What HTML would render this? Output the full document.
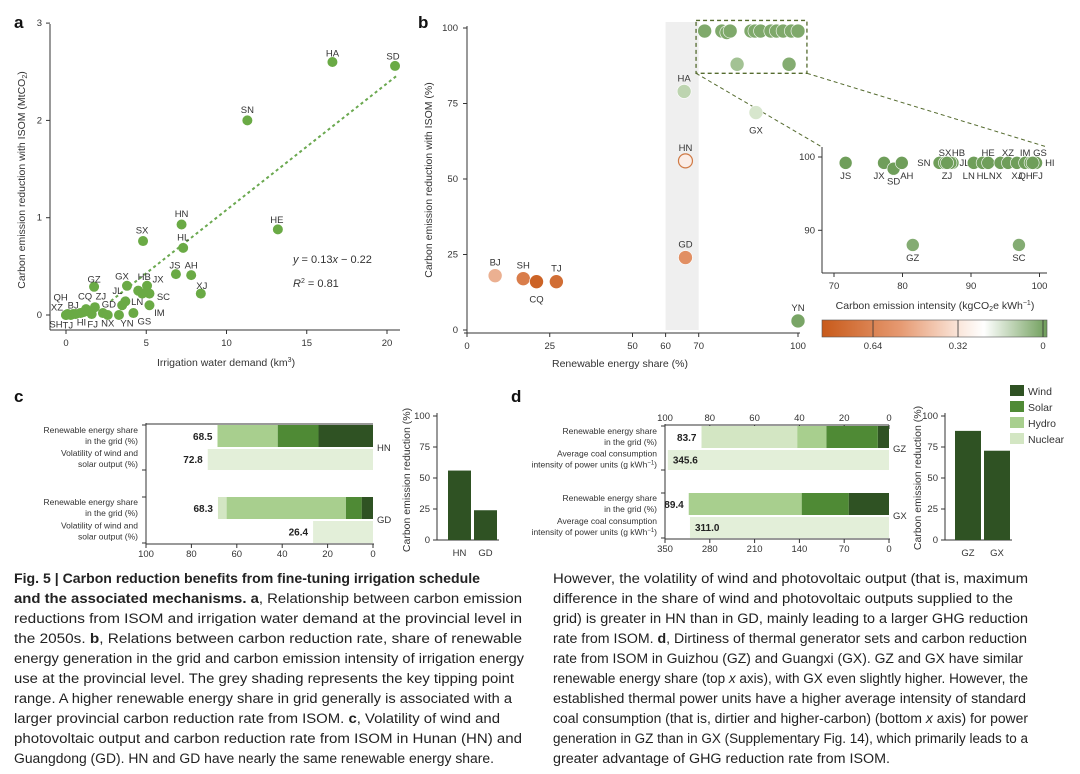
<!DOCTYPE html>
<html><head><meta charset="utf-8">
<style>
html,body{margin:0;padding:0;background:#fff;}
svg{display:block;font-family:"Liberation Sans",sans-serif;}
.t{font-size:9.5px;fill:#333;}
.lab{font-size:9.5px;fill:#333;}
.ax{stroke:#333;stroke-width:1;fill:none;}
.title{font-size:10.5px;fill:#333;}
.pl{font-size:17px;font-weight:bold;fill:#111;}
.cap{font-size:13.5px;fill:#222;}
</style></head>
<body>
<svg id="fig" width="1080" height="774" viewBox="0 0 1080 774" xmlns="http://www.w3.org/2000/svg">
<defs>
<linearGradient id="cbar" x1="0" x2="1" y1="0" y2="0">
<stop offset="0" stop-color="#c85a1a"/><stop offset="0.35" stop-color="#e69a72"/><stop offset="0.62" stop-color="#fbe9df"/><stop offset="0.72" stop-color="#ffffff"/><stop offset="1" stop-color="#6f9e5a"/>
</linearGradient>
</defs>
<text class="pl" x="14" y="28">a</text>
<text class="pl" x="418" y="28">b</text>
<text class="pl" x="14" y="402">c</text>
<text class="pl" x="511" y="402">d</text>

<g id="pa">
<line class="ax" x1="50" y1="24" x2="50" y2="330"/>
<line class="ax" x1="50" y1="330" x2="400" y2="330"/>
<text class="title" transform="translate(25,180) rotate(-90)" text-anchor="middle">Carbon emission reduction with ISOM (MtCO<tspan font-size="7" dy="2">2</tspan><tspan dy="-2">)</tspan></text>
<text class="title" x="226" y="366" text-anchor="middle">Irrigation water demand (km<tspan font-size="7" dy="-4">3</tspan><tspan dy="4">)</tspan></text>
<text x="293" y="263" font-size="11" fill="#333"><tspan font-style="italic">y</tspan> = 0.13<tspan font-style="italic">x</tspan> − 0.22</text>
<text x="293" y="287" font-size="11" fill="#333"><tspan font-style="italic">R</tspan><tspan font-size="7" dy="-4">2</tspan><tspan dy="4"> = 0.81</tspan></text>
</g>

<g id="pb">
<text class="title" transform="translate(432,180) rotate(-90)" text-anchor="middle">Carbon emission reduction with ISOM (%)</text>
<text class="title" x="620" y="367" text-anchor="middle">Renewable energy share (%)</text>
<text class="title" x="935" y="309" text-anchor="middle">Carbon emission intensity (kgCO<tspan font-size="7" dy="2">2</tspan><tspan dy="-2">e kWh</tspan><tspan font-size="7" dy="-4">−1</tspan><tspan dy="4">)</tspan></text>
<rect x="822" y="320" width="225" height="17" fill="url(#cbar)" stroke="#555" stroke-width="0.6"/>
</g>

<g id="pc">
<text class="title" transform="translate(410,480) rotate(-90)" text-anchor="middle">Carbon emission reduction (%)</text>
</g>
<g id="pd">
<text class="title" transform="translate(921,478) rotate(-90)" text-anchor="middle">Carbon emission reduction (%)</text>
</g>

<g id="caption">
<text class="cap" x="14" y="583" textLength="466" lengthAdjust="spacingAndGlyphs" font-weight="bold">Fig. 5 | Carbon reduction benefits from fine-tuning irrigation schedule</text>
<text class="cap" x="14" y="603" textLength="508" lengthAdjust="spacingAndGlyphs"><tspan font-weight="bold">and the associated mechanisms. a</tspan>, Relationship between carbon emission</text>
<text class="cap" x="14" y="623" textLength="508" lengthAdjust="spacingAndGlyphs">reductions from ISOM and irrigation water demand at the provincial level in</text>
<text class="cap" x="14" y="643" textLength="508" lengthAdjust="spacingAndGlyphs">the 2050s. <tspan font-weight="bold">b</tspan>, Relations between carbon reduction rate, share of renewable</text>
<text class="cap" x="14" y="663" textLength="510" lengthAdjust="spacingAndGlyphs">energy generation in the grid and carbon emission intensity of irrigation energy</text>
<text class="cap" x="14" y="683" textLength="500" lengthAdjust="spacingAndGlyphs">use at the provincial level. The grey shading represents the key tipping point</text>
<text class="cap" x="14" y="703" textLength="498" lengthAdjust="spacingAndGlyphs">range. A higher renewable energy share in grid generally is associated with a</text>
<text class="cap" x="14" y="723" textLength="486" lengthAdjust="spacingAndGlyphs">larger provincial carbon reduction rate from ISOM. <tspan font-weight="bold">c</tspan>, Volatility of wind and</text>
<text class="cap" x="14" y="743" textLength="508" lengthAdjust="spacingAndGlyphs">photovoltaic output and carbon reduction rate from ISOM in Hunan (HN) and</text>
<text class="cap" x="14" y="763" textLength="480" lengthAdjust="spacingAndGlyphs">Guangdong (GD). HN and GD have nearly the same renewable energy share.</text>

<text class="cap" x="553" y="583" textLength="475" lengthAdjust="spacingAndGlyphs">However, the volatility of wind and photovoltaic output (that is, maximum</text>
<text class="cap" x="553" y="603" textLength="460" lengthAdjust="spacingAndGlyphs">difference in the share of wind and photovoltaic outputs supplied to the</text>
<text class="cap" x="553" y="623" textLength="475" lengthAdjust="spacingAndGlyphs">grid) is greater in HN than in GD, mainly leading to a larger GHG reduction</text>
<text class="cap" x="553" y="643" textLength="474" lengthAdjust="spacingAndGlyphs">rate from ISOM. <tspan font-weight="bold">d</tspan>, Dirtiness of thermal generator sets and carbon reduction</text>
<text class="cap" x="553" y="663" textLength="470" lengthAdjust="spacingAndGlyphs">rate from ISOM in Guizhou (GZ) and Guangxi (GX). GZ and GX have similar</text>
<text class="cap" x="553" y="683" textLength="475" lengthAdjust="spacingAndGlyphs">renewable energy share (top <tspan font-style="italic">x</tspan> axis), with GX even slightly higher. However, the</text>
<text class="cap" x="553" y="703" textLength="473" lengthAdjust="spacingAndGlyphs">established thermal power units have a higher average intensity of standard</text>
<text class="cap" x="553" y="723" textLength="475" lengthAdjust="spacingAndGlyphs">coal consumption (that is, dirtier and higher-carbon) (bottom <tspan font-style="italic">x</tspan> axis) for power</text>
<text class="cap" x="553" y="743" textLength="475" lengthAdjust="spacingAndGlyphs">generation in GZ than in GX (Supplementary Fig. 14), which primarily leads to a</text>
<text class="cap" x="553" y="763" textLength="337" lengthAdjust="spacingAndGlyphs">greater advantage of GHG reduction rate from ISOM.</text>
</g>
</svg>
<script>
var NS="http://www.w3.org/2000/svg";
var svg=document.getElementById('fig');
function mk(tag,parent){var e=document.createElementNS(NS,tag);(parent||svg).appendChild(e);return e;}
function at(e,o){for(var k in o)e.setAttribute(k,o[k]);return e;}

/* ---------- Panel a data ---------- */
var aNames=["HA","SD","SN","HN","HE","SX","HL","JS","AH","XJ","GZ","GX","HB","JX","SC","JL","LN","IM","GS","YN","NX","GD","FJ","ZJ","CQ","BJ","QH","XZ","SH","TJ","HI","x1","x2","x3"];
var aWater=[16.6,20.5,11.3,7.2,13.2,4.8,7.3,6.85,7.8,8.4,1.75,3.8,4.5,5.05,5.2,3.7,3.5,5.2,4.2,3.3,2.6,2.3,1.6,1.8,1.25,0.45,0.1,0.0,0.0,0.3,0.9,4.75,0.6,1.1];
var aReduction=[2.60,2.56,2.0,0.93,0.88,0.76,0.69,0.42,0.41,0.22,0.29,0.30,0.25,0.30,0.22,0.14,0.10,0.10,0.02,0.0,0.0,0.02,0.01,0.08,0.06,0.01,0.01,0.0,0.0,0.0,0.02,0.22,0.01,0.03];
var aLabelDx=[0,-2,0,0,-1,-1,0,-1,0,1,0,-5,6,11,14,-8,15,10,11,8,0,6,1,6,-1,0,-7,-9,-10,-3,1,0,0,0];
var aLabelDy=[-9,-10,-11,-11,-10,-11,-11,-9,-10,-8,-8,-10,-14,-7,3,-11,-4,7,8,8,8,-9,10,-11,-13,-9,-17,-8,9,10,9,0,0,0];
var aHasLabel=aNames.map(function(n){return n.charAt(0)!=='x';});
var aTicksX=[0,5,10,15,20], aTicksY=[0,1,2,3];
var aSlope=0.13, aIntercept=-0.22;
function axX(v){return 66+16.05*v;} function ayY(v){return 315-97.3*v;}
var pa=document.getElementById('pa');
aTicksX.forEach(function(v){var l=at(mk('line',pa),{x1:axX(v),x2:axX(v),y1:330,y2:334,class:'ax'});

var t=at(mk('text',pa),{x:axX(v),y:346,class:'t','text-anchor':'middle'});t.textContent=v;
});
aTicksY.forEach(function(v){var l=at(mk('line',pa),{x1:46,x2:50,y1:ayY(v),y2:ayY(v),class:'ax'});

var t=at(mk('text',pa),{x:42,y:ayY(v)+3,class:'t','text-anchor':'end'});t.textContent=v;
});
var rl=at(mk('line',pa),{x1:axX(2.8),y1:ayY(aSlope*2.8+aIntercept),x2:axX(20.7),y2:ayY(aSlope*20.7+aIntercept),stroke:'#6aa84f','stroke-width':2,'stroke-dasharray':'3,3'});

aNames.forEach(function(n,i){var cx=axX(aWater[i]),cy=ayY(aReduction[i]);
var c=at(mk('circle',pa),{cx:cx,cy:cy,r:5,fill:'#6aaa45'});

if(!aHasLabel[i])return;
var t=at(mk('text',pa),{x:cx+aLabelDx[i],y:cy+aLabelDy[i]+3.5,class:'lab','text-anchor':'middle'});t.textContent=n;
});

/* ---------- Panel b data ---------- */
var bNames=["BJ","SH","CQ","TJ","HA","HN","GD","GX","YN","c1","c2","c3","c4","c5","c6","c7","c8","c9","c10","c11","c12","c13","c14"];
var bShare=[8.5,17,21,27,65.6,66,66,87.3,100,71.8,77,78.5,79.5,85.8,87,88.7,91.8,93.5,95.5,98,100,81.6,97.3];
var bReduction=[18,17,16,16,79,56,24,72,3,99,99,98.5,99,99,99,99,99,99,99,99,99,88,88];
var bIntensity=[0.5,0.68,0.8,0.75,0.15,0.36,0.6,0.2,0.02,0.03,0.03,0.03,0.03,0.03,0.03,0.03,0.03,0.03,0.03,0.03,0.03,0.1,0.04];
var bLabelSide=["up","up","dn","up","up","up","up","dn","up","","","","","","","","","","","","","",""];
var bTicksX=[0,25,50,60,70,100], bTicksY=[0,25,50,75,100];
function bxX(v){return 467+3.31*v;} function byY(v){return 330-3.02*v;}
function icol(v){
 var stops=[[0.84,[200,90,26]],[0.55,[230,154,114]],[0.32,[255,255,255]],[0.2,[215,230,205]],[0,[111,158,90]]];
 for(var i=0;i<stops.length-1;i++){var a=stops[i],b=stops[i+1];if(v<=a[0]&&v>=b[0]){var f=(a[0]-v)/(a[0]-b[0]);return 'rgb('+a[1].map(function(c,j){return Math.round(c+(b[1][j]-c)*f);}).join(',')+')';}}
 return v>0.84?'rgb(200,90,26)':'rgb(111,158,90)';}
var pb=document.getElementById('pb');
var band=at(mk('rect',pb),{x:bxX(60),y:22,width:bxX(70)-bxX(60),height:330-22,fill:'#efefef'});

var bya=at(mk('line',pb),{x1:467,y1:26,x2:467,y2:333,class:'ax'});

var bxa=at(mk('line',pb),{x1:464,y1:333,x2:800,y2:333,class:'ax'});

bTicksX.forEach(function(v){var l=at(mk('line',pb),{x1:bxX(v),x2:bxX(v),y1:333,y2:337,class:'ax'});

var t=at(mk('text',pb),{x:bxX(v),y:349,class:'t','text-anchor':'middle'});t.textContent=v;
});
bTicksY.forEach(function(v){var l=at(mk('line',pb),{x1:463,x2:467,y1:byY(v),y2:byY(v),class:'ax'});

var t=at(mk('text',pb),{x:458,y:byY(v)+3,class:'t','text-anchor':'end'});t.textContent=v;
});
var zb=at(mk('rect',pb),{x:bxX(69.2),y:byY(102.5),width:bxX(102.7)-bxX(69.2),height:byY(85)-byY(102.5),fill:'none',stroke:'#556b2f','stroke-width':1.3,'stroke-dasharray':'4,3'});

var zl1=at(mk('line',pb),{x1:bxX(69.2),y1:byY(85),x2:822,y2:147,stroke:'#556b2f','stroke-dasharray':'4,3'});

var zl2=at(mk('line',pb),{x1:bxX(102.7),y1:byY(85),x2:1047,y2:147,stroke:'#556b2f','stroke-dasharray':'4,3'});

var boffs={up:[0,-13],dn:[0,18]};
bNames.forEach(function(n,i){var cx=bxX(bShare[i]),cy=byY(bReduction[i]);var col=icol(bIntensity[i]);
var c=at(mk('circle',pb),{cx:cx,cy:cy,r:7,fill:col,stroke:n==='HN'?'#d07a45':'#fff','stroke-width':n==='HN'?1.2:0.6});

var o=boffs[bLabelSide[i]];if(!o)return;
var t=at(mk('text',pb),{x:cx+o[0],y:cy+o[1]+3,class:'lab','text-anchor':'middle'});t.textContent=n;
});

/* inset */
var insNames=["JS","JX","SD","AH","SN","SX","HB","JL","ZJ","LN","HL","HE","NX","XZ","XJ","IM","QH","GS","HI","FJ","GZ","SC"];
var insIntensity=[71.7,77.3,78.7,79.9,85.4,86.2,87.3,87.0,86.5,90.4,91.7,92.5,94.3,95.4,96.7,97.9,98.7,99.2,99.5,99.0,81.5,97.0];
var insReduction=[99.2,99.2,98.4,99.2,99.2,99.2,99.2,99.2,99.2,99.2,99.2,99.2,99.2,99.2,99.2,99.2,99.2,99.2,99.2,99.2,88.0,88.0];
var insLabel=["dn","dnl","dn2","dnr","l","up","upr","r","dn","dnl","dn","up","dnl","up","dn","up","dnl","upr","r","dnr","dn","dn"];
var insTicksX=[70,80,90,100], insTicksY=[90,100];
function ixX(v){return 834+6.85*(v-70);} function iyY(v){return 157-7.33*(v-100);}
var iy=at(mk('line',pb),{x1:822,y1:147,x2:822,y2:273,class:'ax'});

var ix=at(mk('line',pb),{x1:822,y1:273,x2:1047,y2:273,class:'ax'});

insTicksX.forEach(function(v){var l=at(mk('line',pb),{x1:ixX(v),x2:ixX(v),y1:273,y2:277,class:'ax'});

var t=at(mk('text',pb),{x:ixX(v),y:289,class:'t','text-anchor':'middle'});t.textContent=v;
});
insTicksY.forEach(function(v){var l=at(mk('line',pb),{x1:818,x2:822,y1:iyY(v),y2:iyY(v),class:'ax'});

var t=at(mk('text',pb),{x:815,y:iyY(v)+3,class:'t','text-anchor':'end'});t.textContent=v;
});
var ioffs={dn:[0,16,'middle'],dnl:[-5,16,'middle'],dnr:[5,16,'middle'],dn2:[0,16,'middle'],up:[0,-7,'middle'],upr:[6,-7,'middle'],l:[-9,3,'end'],r:[9,3,'start']};
insNames.forEach(function(n,i){var cx=ixX(insIntensity[i]),cy=iyY(insReduction[i]);
var c=at(mk('circle',pb),{cx:cx,cy:cy,r:6.5,fill:'#6f9e5a',stroke:'#fff','stroke-width':0.6,'fill-opacity':i>=20?0.85:1});

var o=ioffs[insLabel[i]];
var t=at(mk('text',pb),{x:cx+o[0],y:cy+o[1],class:'lab','text-anchor':o[2]});t.textContent=n;
});
var cbTicks=[0.64,0.32,0];
function cbX(v){return 1043-265.6*v;}
cbTicks.forEach(function(v){var l=at(mk('line',pb),{x1:cbX(v),x2:cbX(v),y1:320,y2:337,stroke:'#333','stroke-width':0.8});

var t=at(mk('text',pb),{x:cbX(v),y:349,class:'t','text-anchor':'middle'});t.textContent=v;
});

/* ---------- Panels c & d ---------- */
var colors={wind:'#2f5223',solar:'#4f8a35',hydro:'#a8cf8e',nuclear:'#d3e6c3',second:'#e3efd9'};
var cRegions=["HN","GD"];
var cWind=[24,5], cSolar=[18,7], cHydro=[26.5,52.5], cNuclear=[0,3.8];
var cShareTotal=[68.5,68.3], cVolatility=[72.8,26.4];
var cReductionBar=[56,24];
var dRegions=["GZ","GX"];
var dWind=[5,18], dSolar=[23,21], dHydro=[13,50.4], dNuclear=[42.7,0];
var dShareTotal=[83.7,89.4], dCoal=[345.6,311.0];
var dReductionBar=[88,72];
var pctTicks=[100,80,60,40,20,0], coalTicks=[350,280,210,140,70,0], barTicks=[0,25,50,75,100];

function stackPanel(g,prefix,x0,x100,rows,regs,W,S,H,N,tot,second,secondMax,secondFmt,labels2,topTicks,botTicks,botScale){
 function sx(v){return x0-(x0-x100)*v/100;}
 var left=x100,right=x0;
 var frame=at(mk('line',g),{x1:left,y1:rows[0][0]-2,x2:left,y2:rows[3][1]+1,class:'ax'});
 
 var bot=at(mk('line',g),{x1:left,y1:rows[3][1]+1,x2:right+1,y2:rows[3][1]+1,class:'ax'});
 
 if(prefix==='c'){var top=at(mk('line',g),{x1:left,y1:rows[0][0]-1,x2:right,y2:rows[0][0]-1,class:'ax'});
 }
 else{var top2=at(mk('line',g),{x1:left,y1:rows[0][0]-1,x2:right,y2:rows[0][0]-1,class:'ax'});
 
 topTicks.forEach(function(v){var l=at(mk('line',g),{x1:sx(v),x2:sx(v),y1:rows[0][0]-1,y2:rows[0][0]+3,class:'ax'});
 
 var t=at(mk('text',g),{x:sx(v),y:rows[0][0]-5,class:'t','text-anchor':'middle'});t.textContent=v;
 });}
 botTicks.forEach(function(v){var xv=sx(v*botScale);var l=at(mk('line',g),{x1:xv,x2:xv,y1:rows[3][1]+1,y2:rows[3][1]+5,class:'ax'});
 
 var t=at(mk('text',g),{x:xv,y:rows[3][1]+14,class:'t','text-anchor':'middle'});t.textContent=v;
 });
 [0,1,2,3].forEach(function(k){
  var l=at(mk('line',g),{x1:left-4,x2:left,y1:rows[k][k%2?1:0],y2:rows[k][k%2?1:0],class:'ax'});
  });
 regs.forEach(function(r,i){var rr=rows[i*2],vr=rows[i*2+1];
  var segs=[['wind',W[i]],['solar',S[i]],['hydro',H[i]],['nuclear',N[i]]];var acc=0;
  segs.forEach(function(s){if(s[1]<=0)return;var a=sx(acc+s[1]),b=sx(acc);
   var e=at(mk('rect',g),{x:a,y:rr[0],width:b-a,height:rr[1]-rr[0],fill:colors[s[0]]});
   acc+=s[1];});
  var tv=at(mk('text',g),{x:sx(tot[i])-5,y:(rr[0]+rr[1])/2+4,'font-size':'10','font-weight':'bold',fill:'#222','text-anchor':'end'});tv.textContent=tot[i].toFixed(1);
  
  var sv=second[i]/secondMax*100;
  var e2=at(mk('rect',g),{x:sx(sv),y:vr[0]+1,width:sx(0)-sx(sv),height:vr[1]-vr[0]-1,fill:colors.second});
  
  var t2=at(mk('text',g),{x:secondFmt==='in'?sx(sv)+5:sx(sv)-5,y:(vr[0]+vr[1])/2+4,'font-size':'10','font-weight':'bold',fill:'#222','text-anchor':secondFmt==='in'?'start':'end'});t2.textContent=second[i].toFixed(1);
  
  var rl=at(mk('text',g),{x:right+4,y:rr[1]+4,class:'lab'});rl.textContent=r;
  
  [[rr,labels2[0]],[vr,labels2[1]]].forEach(function(p){var ls=p[1];ls.forEach(function(line,j){
   var t=at(mk('text',g),{x:left-8,y:(p[0][0]+p[0][1])/2-3+j*11,'font-size':'8.5',fill:'#333','text-anchor':'end'});t.innerHTML=line;
   });});
 });
}
var gc=document.getElementById('pc'), gd=document.getElementById('pd');
stackPanel(gc,'c',373,146,[[425,447],[448,470],[497,519],[520,543]],cRegions,cWind,cSolar,cHydro,cNuclear,cShareTotal,cVolatility,100,'out',
 [["Renewable energy share","in the grid (%)"],["Volatility of wind and","solar output (%)"]],null,pctTicks,1);
stackPanel(gd,'d',889,665,[[426,448],[449,470],[493,515],[516,538]],dRegions,dWind,dSolar,dHydro,dNuclear,dShareTotal,dCoal,350,'in',
 [["Renewable energy share","in the grid (%)"],["Average coal consumption","intensity of power units (g kWh<tspan font-size='6' dy='-3'>−1</tspan><tspan dy='3'>)</tspan>"]],pctTicks,coalTicks,100/350);

function barPanel(g,prefix,ax,x0,w,gap,regs,vals){
 function by(v){return 540-1.24*v;}
 var ya=at(mk('line',g),{x1:ax,y1:by(100)-3,x2:ax,y2:by(0),class:'ax'});
 
 var xa=at(mk('line',g),{x1:ax,y1:by(0),x2:x0+2*w+gap+2,y2:by(0),class:'ax'});
 
 barTicks.forEach(function(v){var l=at(mk('line',g),{x1:ax-4,x2:ax,y1:by(v),y2:by(v),class:'ax'});
 
 var t=at(mk('text',g),{x:ax-7,y:by(v)+3,class:'t','text-anchor':'end'});t.textContent=v;
 });
 regs.forEach(function(r,i){var x=x0+i*(w+gap);
 var b=at(mk('rect',g),{x:x,y:by(vals[i]),width:w,height:by(0)-by(vals[i]),fill:colors.wind});
 
 var t=at(mk('text',g),{x:x+w/2,y:556,class:'t','text-anchor':'middle'});t.textContent=r;
 });
}
barPanel(gc,'c',437,448,23,3,cRegions,cReductionBar);
barPanel(gd,'d',945,955,26,3,dRegions,dReductionBar);

var legNames=["Wind","Solar","Hydro","Nuclear"], legKeys=["wind","solar","hydro","nuclear"];
legNames.forEach(function(n,i){var y=385+i*16;
 var r=at(mk('rect'),{x:1010,y:y,width:14,height:11,fill:colors[legKeys[i]]});
 
 var t=at(mk('text'),{x:1028,y:y+10,'font-size':'10.5',fill:'#333'});t.textContent=n;
 });
</script>
</body></html>
